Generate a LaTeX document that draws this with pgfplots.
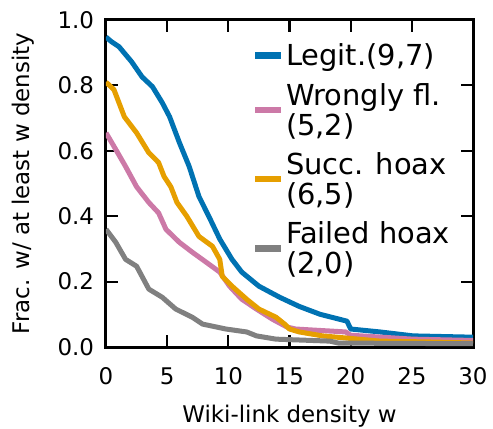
\documentclass[border=0pt]{standalone}
\usepackage{pgfplots}
\pgfplotsset{compat=1.18}
\usepackage{fontspec}
\setmainfont{DejaVu Sans}
\definecolor{cblue}{RGB}{0,114,178}
\definecolor{corange}{RGB}{230,159,0}
\definecolor{cpink}{RGB}{204,121,167}
\definecolor{cgray}{RGB}{128,128,128}
\begin{document}
\begin{tikzpicture}
\begin{axis}[
  scale only axis, width=367bp, height=327bp,
  xmin=0, xmax=30, ymin=0, ymax=1,
  xtick={0,5,...,30}, ytick={0,0.2,...,1.0},
  tick align=inside, major tick length=12bp,
  tick style={line width=2.2bp, black},
  axis line style={line width=3bp},
  /pgf/number format/assume math mode=true,
  yticklabel style={/pgf/number format/fixed, /pgf/number format/fixed zerofill, /pgf/number format/precision=1},
  ticklabel style={font=\fontsize{23}{27}\selectfont},
  label style={font=\fontsize{23}{27}\selectfont},
  yticklabel shift=8.5bp, xticklabel shift=17bp,
  xlabel shift=13bp, ylabel shift=16bp,
  xlabel={Wiki-link density w}, ylabel={Frac. w/ at least w density},
  legend style={draw=none, fill=none, at={(0.3895,0.94)}, anchor=north west,
    font=\fontsize{29}{30}\selectfont, nodes={align=left, inner xsep=1.5bp}, row sep=12bp},
  legend cell align=left,
  legend image code/.code={\draw[#1, line width=6.5bp] (0bp,0bp) -- (26bp,0bp);},
  every axis plot/.append style={line width=5bp, line join=round},
]
\addplot[cblue] coordinates {
(0,0.948)(0.4,0.935)(1.07,0.918)(2.1,0.872)(2.95,0.826)(3.8,0.796)(4.6,0.747)(5.2,0.704)(6.0,0.625)(6.8,0.552)(7.6,0.46)(8.4,0.40)(9.3,0.33)(10.3,0.268)(11.1,0.229)(12.5,0.186)(14.2,0.152)(15.8,0.124)(17.5,0.10)(19.7,0.079)(20.0,0.055)(22.4,0.046)(25.1,0.034)(30,0.03)};
\addlegendentry{Legit.(9,7)}
\addplot[cpink] coordinates {
(0,0.655)(0.8,0.604)(1.6,0.552)(2.5,0.49)(3.5,0.442)(4.3,0.41)(4.9,0.36)(6.0,0.32)(7.05,0.29)(8.2,0.259)(9.3,0.229)(10.1,0.186)(11.1,0.146)(12.3,0.116)(13.6,0.085)(14.8,0.061)(15.5,0.055)(19.6,0.046)(20.0,0.036)(25.1,0.024)(30,0.02)};
\addlegendentry{Wrongly fl.\\(5,2)}
\addplot[corange] coordinates {
(0,0.81)(0.65,0.787)(1.5,0.704)(2.5,0.655)(3.5,0.594)(4.3,0.564)(4.75,0.521)(5.3,0.49)(5.8,0.442)(6.6,0.40)(7.6,0.338)(8.7,0.308)(9.3,0.268)(9.5,0.216)(10.3,0.186)(11.5,0.146)(12.5,0.116)(13.9,0.091)(14.6,0.07)(15.0,0.055)(15.8,0.046)(17.7,0.034)(22.4,0.018)(27,0.015)(30,0.012)};
\addlegendentry{Succ. hoax\\(6,5)}
\addplot[cgray] coordinates {
(0,0.36)(0.8,0.32)(1.6,0.268)(2.5,0.247)(3.5,0.177)(4.6,0.152)(5.7,0.116)(7.05,0.091)(7.9,0.07)(9.8,0.055)(11.5,0.046)(12.3,0.034)(13.9,0.024)(18.3,0.018)(19,0.012)(30,0.01)};
\addlegendentry{Failed hoax\\(2,0)}
\end{axis}
\pgfresetboundingbox
\path[use as bounding box] ([shift={(-106bp,-82bp)}]current axis.south west) rectangle ([shift={(20bp,20bp)}]current axis.north east);
\end{tikzpicture}
\end{document}
